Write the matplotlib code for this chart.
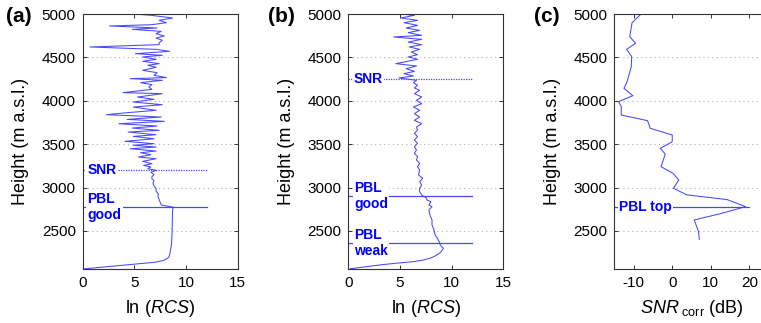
import matplotlib
matplotlib.use("Agg")
import matplotlib.pyplot as plt

plt.rcParams['font.family'] = ['Liberation Sans', 'DejaVu Sans']
plt.rcParams['mathtext.fontset'] = 'custom'
plt.rcParams['mathtext.rm'] = 'Liberation Sans'
plt.rcParams['mathtext.it'] = 'Liberation Sans:italic'
plt.rcParams['axes.unicode_minus'] = False

# ---------------- data ----------------
h_a = [2062, 2080, 2100, 2120, 2140, 2160, 2180, 2200, 2245, 2350, 2500, 2650, 2740, 2775,
       2790, 2800, 2830, 2860, 2895, 2930, 2960, 2991, 3020, 3049, 3080, 3100, 3126, 3150,
       3175, 3199, 3218, 3237, 3256, 3275, 3302, 3333, 3352, 3379, 3402, 3421, 3448, 3467,
       3487, 3506, 3533, 3563, 3590, 3609, 3640, 3659, 3686, 3709, 3736, 3763, 3786, 3813,
       3840, 3863, 3890, 3928, 3955, 3986, 4017, 4043, 4082, 4094, 4132, 4159, 4186, 4209,
       4236, 4255, 4267, 4293, 4324, 4351, 4386, 4409, 4428, 4455, 4478, 4505, 4524, 4543,
       4570, 4593, 4620, 4647, 4670, 4697, 4723, 4747, 4773, 4800, 4823, 4839, 4862, 4877,
       4900, 4927, 4954, 4985, 5000]
rcs_a = [0.0, 1.6, 3.4, 5.2, 7.0, 7.8, 8.15, 8.35, 8.45, 8.6, 8.65, 8.68, 8.7, 8.75,
         8.0, 7.6, 7.5, 7.4, 7.3, 7.3, 7.1, 7.1, 6.9, 6.8, 6.9, 6.7, 6.7, 6.9,
         6.6, 7.1, 6.3, 6.6, 5.9, 6.7, 5.8, 7.1, 5.4, 6.6, 5.6, 7.1, 4.6, 7.1,
         4.9, 6.9, 4.1, 6.9, 4.9, 7.1, 4.4, 7.4, 4.8, 7.2, 3.5, 7.9, 4.3, 7.6,
         2.3, 4.3, 7.1, 4.9, 7.7, 4.9, 6.9, 5.3, 7.7, 3.9, 6.7, 6.4, 6.7, 5.6,
         7.7, 4.6, 8.1, 6.9, 7.2, 5.8, 7.1, 6.3, 7.4, 5.8, 7.1, 5.8, 7.7, 5.1,
         8.4, 7.1, 0.7, 7.4, 7.4, 7.7, 7.1, 7.9, 7.1, 7.6, 4.8, 7.2, 2.6, 6.7,
         8.1, 7.4, 8.7, 6.6, 4.9]

h_b = [2065, 2085, 2108, 2127, 2147, 2166, 2190, 2212, 2250, 2281, 2300, 2339, 2377, 2420,
       2454, 2511, 2569, 2627, 2684, 2742, 2780, 2800, 2838, 2857, 2876, 2915, 2953, 2991,
       3030, 3068, 3107, 3145, 3203, 3241, 3279, 3318, 3356, 3395, 3433, 3471, 3510, 3548,
       3587, 3625, 3664, 3698, 3737, 3775, 3813, 3852, 3890, 3929, 3967, 4005, 4044, 4082,
       4121, 4148, 4178, 4209, 4236, 4263, 4286, 4313, 4339, 4370, 4401, 4428, 4447, 4478,
       4505, 4531, 4562, 4593, 4620, 4647, 4677, 4708, 4735, 4754, 4785, 4812, 4839, 4869,
       4900, 4927, 4954, 4985, 5000]
rcs_b = [0.2, 1.5, 3.0, 4.5, 6.3, 7.3, 8.0, 8.4, 8.9, 9.1, 9.2, 8.9, 8.8, 8.6,
         8.4, 8.3, 8.1, 8.1, 7.9, 7.8, 8.1, 7.8, 8.0, 7.6, 7.6, 7.1, 6.9, 6.9,
         7.1, 6.9, 7.2, 6.8, 6.9, 6.7, 6.9, 6.6, 6.7, 6.4, 6.6, 6.4, 6.7, 6.4,
         6.7, 6.4, 6.7, 6.6, 7.1, 6.4, 6.9, 6.4, 6.9, 6.3, 7.1, 6.6, 7.1, 6.4,
         6.9, 6.4, 6.7, 6.3, 6.6, 4.9, 6.3, 5.4, 6.4, 5.6, 6.6, 4.6, 5.4, 6.7,
         5.8, 6.7, 6.1, 6.9, 5.9, 7.1, 5.8, 7.1, 4.4, 7.1, 5.8, 6.9, 5.6, 6.7,
         5.4, 6.7, 5.1, 6.4, 5.1]

h_c = [2404, 2492, 2627, 2700, 2780, 2862, 2916, 2992, 3087, 3164, 3241, 3387, 3452, 3529,
       3606, 3683, 3771, 3836, 3932, 3990, 4059, 4143, 4220, 4297, 4393, 4508, 4593, 4662,
       4739, 4900, 4990]
snr_c = [7.0, 6.8, 5.7, 12.5, 19.0, 14.2, 3.8, 0.3, 1.7, 0.2, -2.9, -1.8, -3.1, 0.0,
         0.0, -5.7, -6.4, -13.2, -13.2, -13.9, -10.2, -12.5, -11.7, -11.2, -10.6, -10.5, -11.8, -9.5,
         -11.0, -10.4, -8.3]

snr_h_a, pbl_good_a = 3200, 2780
snr_h_b, pbl_good_b, pbl_weak_b = 4250, 2900, 2360
pbl_top_c = 2780

yticks = [2500, 3000, 3500, 4000, 4500, 5000]
xticks_rcs = [0, 5, 10, 15]
xticks_snr = [-10, 0, 10, 20]

# ---------------- style ----------------
W, H = 761, 323
fig = plt.figure(figsize=(W / 100, H / 100), dpi=100)
LC = '#4848ff'
TC = '#0000ff'
SPC = '#333333'

def make_ax(x0, x1, y_top=14, y_bot=269):
    ax = fig.add_axes([x0 / W, (H - y_bot) / H, (x1 - x0) / W, (y_bot - y_top) / H])
    ax.set_ylim(2062, 5000)
    ax.set_yticks(yticks)
    for s in ax.spines.values():
        s.set_color(SPC)
        s.set_linewidth(0.8)
    ax.tick_params(direction='in', top=True, right=True, length=3, width=0.7,
                   color=SPC, labelsize=11, pad=5)
    for y in yticks[:-1]:
        ax.axhline(y, color='#b0b0b0', lw=0.8, ls=(0, (1, 3)), zorder=0)
    ax.set_ylabel('Height (m a.s.l.)', fontsize=13, labelpad=9)
    return ax

def label(ax, x, y, s):
    ax.text(x, y, s, color=TC, fontsize=10, fontweight='bold', ha='left', va='center',
            linespacing=1.15, zorder=5,
            bbox=dict(facecolor='white', edgecolor='none', pad=1.0))

# panel a
ax1 = make_ax(82.7, 237.7)
ax1.set_xlim(0, 15)
ax1.set_xticks(xticks_rcs)
ax1.plot(rcs_a, h_a, color=LC, lw=0.75)
ax1.plot([0, 12], [snr_h_a, snr_h_a], color=LC, lw=0.9, ls=(0, (1, 1)))
ax1.plot([0, 12], [pbl_good_a, pbl_good_a], color=LC, lw=0.9)
label(ax1, 0.45, snr_h_a, 'SNR')
label(ax1, 0.45, pbl_good_a, 'PBL\ngood')
ax1.set_xlabel(r'ln ($\mathit{RCS}$)', fontsize=13, labelpad=6)

# panel b
ax2 = make_ax(348.3, 503.3)
ax2.set_xlim(0, 15)
ax2.set_xticks(xticks_rcs)
ax2.plot(rcs_b, h_b, color=LC, lw=0.75)
ax2.plot([0, 12], [snr_h_b, snr_h_b], color=LC, lw=0.9, ls=(0, (1, 1)))
ax2.plot([0, 12], [pbl_good_b, pbl_good_b], color=LC, lw=0.9)
ax2.plot([0, 12], [pbl_weak_b, pbl_weak_b], color=LC, lw=0.9)
label(ax2, 0.55, snr_h_b, 'SNR')
label(ax2, 0.55, pbl_good_b, 'PBL\ngood')
label(ax2, 0.55, pbl_weak_b, 'PBL\nweak')
ax2.set_xlabel(r'ln ($\mathit{RCS}$)', fontsize=13, labelpad=6)

# panel c
ax3 = make_ax(614.3, 768.8)
ax3.set_xlim(-15, 25)
ax3.set_xticks(xticks_snr)
ax3.plot(snr_c, h_c, color=LC, lw=0.75)
ax3.plot([-15, 20], [pbl_top_c, pbl_top_c], color=LC, lw=0.9)
label(ax3, -13.8, pbl_top_c, 'PBL top')
ax3.set_xlabel(r'$\mathit{SNR}_{\mathrm{\ corr}}$ (dB)', fontsize=13, labelpad=6)

for x, s in [(19, '(a)'), (281, '(b)'), (547, '(c)')]:
    fig.text(x / W, 1 - 17 / H, s, fontsize=15, fontweight='bold', ha='center', va='center')

fig.savefig('out.png', dpi=100)
